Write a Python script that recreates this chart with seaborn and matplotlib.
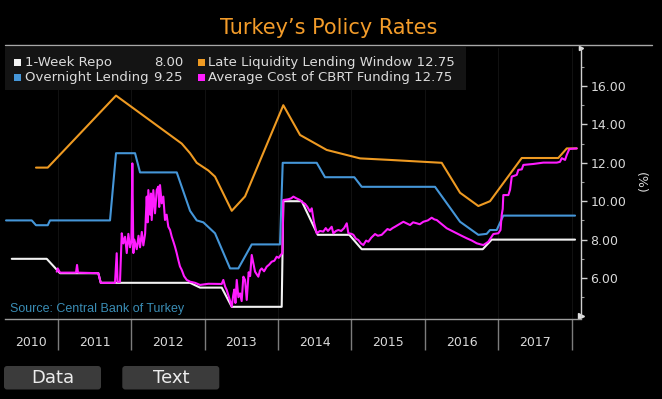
import matplotlib
matplotlib.use("Agg")
import matplotlib.pyplot as plt
import pandas as pd
import seaborn as sns
from matplotlib.patches import FancyBboxPatch, Rectangle
from matplotlib.ticker import FixedFormatter, FixedLocator, FormatStrFormatter

W, H = 662, 399

series_names = ["1-Week Repo", "Overnight Lending",
                "Late Liquidity Lending Window", "Average Cost of CBRT Funding"]
series_colors = ["#f2f2f2", "#4596d8", "#ee9a22", "#ff1cff"]
last_values = ["8.00", "9.25", "12.75", "12.75"]

repo_year = [2010.374, 2010.850, 2011.031, 2011.553, 2011.586, 2012.802, 2012.938,
             2013.233, 2013.370, 2014.050, 2014.072, 2014.323, 2014.541, 2014.971,
             2015.140, 2016.788, 2016.910, 2018.045]
repo_rate = [7.00, 7.00, 6.25, 6.25, 5.75, 5.75, 5.50,
             5.50, 4.50, 4.50, 10.00, 10.00, 8.25, 8.25,
             7.50, 7.50, 8.00, 8.00]

onl_year = [2010.296, 2010.646, 2010.704, 2010.864, 2010.895, 2011.712, 2011.794,
            2012.053, 2012.121, 2012.621, 2012.802, 2012.893, 2012.983, 2013.142,
            2013.347, 2013.460, 2013.642, 2014.027, 2014.064, 2014.527, 2014.640,
            2015.039, 2015.140, 2016.138, 2016.479, 2016.728, 2016.842, 2016.887,
            2016.978, 2017.068, 2018.045]
onl_rate = [9.00, 9.00, 8.75, 8.75, 9.00, 9.00, 12.50,
            12.50, 11.50, 11.50, 9.50, 9.00, 8.90, 8.33,
            6.50, 6.50, 7.75, 7.75, 12.00, 12.00, 11.25,
            11.25, 10.75, 10.75, 8.93, 8.25, 8.30, 8.50,
            8.50, 9.25, 9.25]

llw_year = [2010.704, 2010.864, 2011.794, 2012.689, 2012.802, 2012.893, 2013.051,
            2013.142, 2013.370, 2013.551, 2014.072, 2014.300, 2014.663, 2015.117,
            2015.525, 2016.229, 2016.479, 2016.728, 2016.887, 2017.319, 2017.817,
            2017.932, 2018.068]
llw_rate = [11.75, 11.75, 15.50, 13.00, 12.50, 12.00, 11.60,
            11.28, 9.50, 10.25, 15.00, 13.45, 12.67, 12.23,
            12.15, 12.00, 10.44, 9.75, 10.00, 12.25, 12.25,
            12.75, 12.75]

acf_year = [2010.986, 2011.000, 2011.031, 2011.249, 2011.263, 2011.276, 2011.553,
            2011.586, 2011.780, 2011.803, 2011.815, 2011.848, 2011.872, 2011.894,
            2011.917, 2011.940, 2011.962, 2011.985, 2012.003, 2012.016, 2012.030,
            2012.043, 2012.076, 2012.100, 2012.121, 2012.145, 2012.166, 2012.190,
            2012.212, 2012.225, 2012.234, 2012.257, 2012.270, 2012.280, 2012.302,
            2012.325, 2012.348, 2012.370, 2012.382, 2012.393, 2012.416, 2012.438,
            2012.461, 2012.483, 2012.506, 2012.530, 2012.553, 2012.575, 2012.597,
            2012.620, 2012.642, 2012.665, 2012.689, 2012.720, 2012.757, 2012.802,
            2012.870, 2012.938, 2013.050, 2013.233, 2013.255, 2013.280, 2013.301,
            2013.340, 2013.370, 2013.390, 2013.405, 2013.420, 2013.438, 2013.460,
            2013.483, 2013.505, 2013.528, 2013.551, 2013.574, 2013.600, 2013.620,
            2013.642, 2013.664, 2013.687, 2013.710, 2013.732, 2013.755, 2013.778,
            2013.810, 2013.846, 2013.880, 2013.914, 2013.950, 2013.982, 2014.010,
            2014.037, 2014.060, 2014.072, 2014.140, 2014.180, 2014.209, 2014.250,
            2014.300, 2014.330, 2014.368, 2014.400, 2014.436, 2014.459, 2014.490,
            2014.527, 2014.570, 2014.617, 2014.650, 2014.680, 2014.731, 2014.753,
            2014.790, 2014.821, 2014.860, 2014.900, 2014.936, 2014.958, 2015.000,
            2015.026, 2015.060, 2015.094, 2015.130, 2015.162, 2015.200, 2015.230,
            2015.270, 2015.321, 2015.360, 2015.412, 2015.457, 2015.490, 2015.525,
            2015.560, 2015.593, 2015.650, 2015.707, 2015.750, 2015.798, 2015.840,
            2015.889, 2015.930, 2015.979, 2016.040, 2016.093, 2016.130, 2016.161,
            2016.230, 2016.298, 2016.370, 2016.434, 2016.500, 2016.570, 2016.640,
            2016.706, 2016.760, 2016.796, 2016.830, 2016.864, 2016.900, 2016.932,
            2017.000, 2017.030, 2017.046, 2017.060, 2017.068, 2017.137, 2017.160,
            2017.183, 2017.251, 2017.273, 2017.320, 2017.341, 2017.477, 2017.613,
            2017.796, 2017.840, 2017.864, 2017.909, 2017.932, 2017.967, 2018.068]
acf_rate = [6.33, 6.50, 6.28, 6.28, 6.68, 6.28, 6.25,
            5.75, 5.75, 7.29, 5.80, 5.80, 8.33, 7.80,
            8.15, 7.30, 8.30, 7.60, 7.90, 11.97, 7.30,
            8.00, 7.50, 8.20, 7.60, 8.40, 7.70, 8.30,
            10.24, 8.90, 10.58, 9.30, 10.40, 9.02, 10.58,
            9.37, 10.58, 10.76, 9.70, 10.84, 9.89, 10.24,
            9.02, 9.30, 8.67, 8.50, 8.15, 7.90, 7.63,
            7.30, 6.94, 6.60, 6.42, 6.10, 5.90, 5.81,
            5.75, 5.64, 5.70, 5.69, 5.90, 5.55, 5.38,
            4.90, 4.51, 5.10, 5.40, 4.70, 5.90, 5.00,
            5.20, 4.80, 6.07, 5.90, 4.86, 6.30, 6.10,
            7.20, 6.77, 6.33, 6.20, 6.07, 6.40, 6.50,
            6.35, 6.59, 6.70, 6.85, 6.90, 7.11, 7.05,
            7.20, 7.30, 10.06, 10.10, 10.15, 10.24, 10.15,
            10.06, 9.95, 9.86, 9.70, 9.46, 9.63, 8.90,
            8.33, 8.45, 8.42, 8.60, 8.45, 8.67, 8.33,
            8.45, 8.50, 8.45, 8.60, 8.85, 8.33, 8.30,
            8.25, 8.05, 7.98, 7.80, 7.72, 7.95, 7.89,
            8.10, 8.29, 8.20, 8.25, 8.42, 8.55, 8.50,
            8.60, 8.67, 8.80, 8.93, 8.85, 8.76, 8.90,
            8.85, 8.80, 8.93, 9.00, 9.14, 9.05, 9.02,
            8.80, 8.59, 8.45, 8.33, 8.20, 8.07, 7.95,
            7.81, 7.75, 7.72, 7.80, 7.89, 8.10, 8.29,
            8.33, 8.50, 9.28, 9.60, 10.32, 10.32, 10.60,
            11.28, 11.37, 11.63, 11.66, 11.89, 11.94, 12.01,
            12.01, 12.05, 12.24, 12.15, 12.41, 12.72, 12.75]

year_labels = ["2010", "2011", "2012", "2013", "2014", "2015", "2016", "2017"]
year_edges = [2011, 2012, 2013, 2014, 2015, 2016, 2017, 2018]
rate_ticks = [6, 8, 10, 12, 14, 16]
rate_minor = [5, 7, 9, 11, 13, 15, 17]

X_MIN, X_MAX = 2010.282, 2018.122
Y_MIN, Y_MAX = 3.85, 18.0

frames = []
for name, xs, ys in zip(series_names,
                        [repo_year, onl_year, llw_year, acf_year],
                        [repo_rate, onl_rate, llw_rate, acf_rate]):
    frames.append(pd.DataFrame({"year": xs, "rate": ys, "series": name}))
df = pd.concat(frames, ignore_index=True)

sns.set_theme(style="dark", rc={
    "figure.facecolor": "black",
    "axes.facecolor": "black",
    "axes.grid": False,
    "savefig.facecolor": "black",
})
plt.rcParams["font.family"] = ["DejaVu Sans"]

fig = plt.figure(figsize=(W / 100, H / 100), dpi=100)
ax_left, ax_right, ax_top, ax_bottom = 5.0, 580.7, 47.6, 319.3
ax = fig.add_axes([ax_left / W, 1 - ax_bottom / H,
                   (ax_right - ax_left) / W, (ax_bottom - ax_top) / H])

sns.lineplot(data=df, x="year", y="rate", hue="series", hue_order=series_names,
             palette=dict(zip(series_names, series_colors)), estimator=None,
             sort=False, linewidth=1.5, legend=False, ax=ax)

ax.set_xlim(X_MIN, X_MAX)
ax.set_ylim(Y_MIN, Y_MAX)
ax.set_xlabel("")
ax.set_ylabel("")

# year separators below the plot, labels centred in each year
ax.xaxis.set_major_locator(FixedLocator(year_edges))
label_pos = [(X_MIN + 2011) / 2] + [y + 0.5 for y in year_edges[:-1]]
ax.xaxis.set_minor_locator(FixedLocator(label_pos))
ax.xaxis.set_minor_formatter(FixedFormatter(year_labels))
ax.tick_params(axis="x", which="major", bottom=True, length=22.6, width=1.0,
               color="#7c7c7c", direction="out", labelbottom=False)
ax.tick_params(axis="x", which="minor", bottom=True, length=0, pad=11.8,
               labelsize=9, labelcolor="#d9d9d9")
ax.grid(axis="x", which="major", color="#111111", linewidth=0.8)

# right-hand rate axis
ax.yaxis.tick_right()
ax.yaxis.set_major_locator(FixedLocator(rate_ticks))
ax.yaxis.set_minor_locator(FixedLocator(rate_minor))
ax.yaxis.set_major_formatter(FormatStrFormatter("%.2f"))
ax.tick_params(axis="y", which="major", right=True, left=False, labelright=True,
               labelleft=False, length=4.5, width=1.0, color="#cfcfcf",
               direction="out", pad=2.4, labelsize=9, labelcolor="#d9d9d9")
ax.tick_params(axis="y", which="minor", right=True, left=False, length=2,
               width=0.8, color="#9a9a9a", direction="out")

for side in ["left", "top"]:
    ax.spines[side].set_visible(False)
ax.spines["bottom"].set_color("#9c9c9c")
ax.spines["bottom"].set_linewidth(1.0)
ax.spines["right"].set_color("#cfcfcf")
ax.spines["right"].set_linewidth(1.0)
ax.spines["right"].set_bounds(4, Y_MAX)
ax.plot([1], [4], marker=">", ms=4, color="#e0e0e0", clip_on=False,
        transform=ax.get_yaxis_transform())
ax.plot([1], [Y_MAX], marker=">", ms=3, color="#e0e0e0", clip_on=False,
        transform=ax.get_yaxis_transform())

# overlay in pixel coordinates for title, legend, source and buttons
ov = fig.add_axes([0, 0, 1, 1], zorder=5)
ov.set_xlim(0, W)
ov.set_ylim(H, 0)
ov.axis("off")
ov.patch.set_visible(False)

ov.text(329, 28, "Turkey\u2019s Policy Rates", ha="center", va="center",
        fontsize=15, color="#f39c2a")
ov.plot([5, 652], [45, 45], color="#a8a8a8", linewidth=1.0)

ov.add_patch(Rectangle((5, 47), 461, 43, facecolor="#141414", edgecolor="none"))
legend_slots = [(14, 62.7), (14, 77.3), (198, 62.7), (198, 77.3)]
for i, (name, color, val) in enumerate(zip(series_names, series_colors, last_values)):
    sx, sy = legend_slots[i]
    ov.add_patch(Rectangle((sx, sy - 3.3), 6.5, 6.5, facecolor=color, edgecolor="none"))
    if i < 2:
        ov.text(sx + 11, sy, name, ha="left", va="center", fontsize=9.5, color="#dcdcdc")
        ov.text(183, sy, val, ha="right", va="center", fontsize=9.5, color="#dcdcdc")
    else:
        ov.text(sx + 10, sy, f"{name} {val}", ha="left", va="center",
                fontsize=9.5, color="#dcdcdc")

ov.text(640, 183, "(%)", ha="center", va="center", rotation=270,
        fontsize=9, color="#d9d9d9")

ov.text(10, 309, "Source: Central Bank of Turkey", ha="left", va="center",
        fontsize=9, color="#3a8db5", family=["Liberation Sans", "DejaVu Sans"])

for bx, label in [(4, "Data"), (122.3, "Text")]:
    ov.add_patch(FancyBboxPatch((bx, 366), 97, 23.5,
                                boxstyle="round,pad=0,rounding_size=3",
                                facecolor="#3b3b3b", edgecolor="none"))
    ov.text(bx + 48.5, 378, label, ha="center", va="center",
            fontsize=13, color="#ececec")

fig.savefig("out.png", dpi=100, facecolor="black")
